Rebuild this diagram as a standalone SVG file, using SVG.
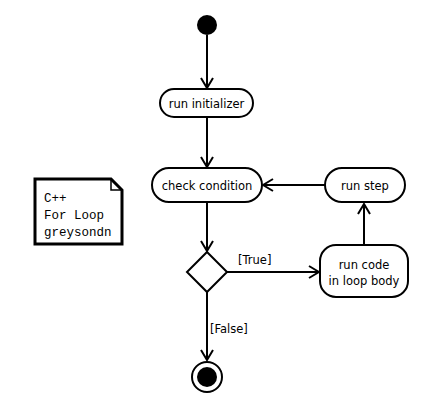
<svg xmlns="http://www.w3.org/2000/svg" width="433" height="408" viewBox="0 0 433 408">
  <style>
    .act { fill: #fff; stroke: #000; stroke-width: 2; }
    .lbl { font-family: "DejaVu Sans", Verdana, sans-serif; font-size: 11.5px; fill: #000; text-anchor: middle; }
    .guard { font-family: "DejaVu Sans", Verdana, sans-serif; font-size: 11.5px; fill: #000; }
    .edge { fill: none; stroke: #000; stroke-width: 2; marker-end: url(#open); }
    .note { font-family: "Liberation Mono", "Courier New", monospace; font-size: 12.5px; fill: #000; }
  </style>
  <defs>
    <marker id="open" viewBox="0 0 12 14" refX="11" refY="7" markerWidth="12" markerHeight="14" markerUnits="userSpaceOnUse" orient="auto">
      <path d="M1,1 L11,7 L1,13" fill="none" stroke="#000" stroke-width="2"/>
    </marker>
  </defs>

  <rect width="433" height="408" fill="#fff"/>

  <g id="connectors">
    <line class="edge" x1="207" y1="35" x2="207" y2="88"/>
    <line class="edge" x1="207" y1="118" x2="207" y2="167"/>
    <line class="edge" x1="207" y1="203" x2="207" y2="251"/>
    <line class="edge" x1="227" y1="272" x2="319" y2="272"/>
    <line class="edge" x1="364" y1="245" x2="364" y2="204"/>
    <line class="edge" x1="325" y1="185" x2="263" y2="185"/>
    <line class="edge" x1="207" y1="292" x2="207" y2="360"/>
    <text class="guard" x="238" y="264">[True]</text>
    <text class="guard" x="210" y="333">[False]</text>
  </g>

  <g id="start">
    <circle cx="207" cy="25" r="10" fill="#000"/>
  </g>

  <g id="run-initializer">
    <rect class="act" x="160" y="89" width="93" height="28" rx="14"/>
    <text class="lbl" x="206.5" y="107.5">run initializer</text>
  </g>

  <g id="check-condition">
    <rect class="act" x="152" y="168" width="110" height="34" rx="17"/>
    <text class="lbl" x="207" y="189.5">check condition</text>
  </g>

  <g id="run-step">
    <rect class="act" x="325" y="168" width="80" height="34" rx="17"/>
    <text class="lbl" x="365" y="189.5">run step</text>
  </g>

  <g id="decision">
    <polygon class="act" points="207,252 227,272 207,292 187,272"/>
  </g>

  <g id="run-body">
    <rect class="act" x="320" y="245" width="88" height="52" rx="16"/>
    <text class="lbl" x="364" y="269">run code</text>
    <text class="lbl" x="364" y="285">in loop body</text>
  </g>

  <g id="end">
    <circle cx="207" cy="377" r="15" fill="#fff" stroke="#000" stroke-width="2"/>
    <circle cx="207" cy="377" r="10" fill="#000"/>
  </g>

  <g id="note">
    <path d="M35,179 L111,179 L122,190 L122,244 L35,244 Z" fill="#fff" stroke="#000" stroke-width="3"/>
    <path d="M111,179 L111,190 L122,190" fill="none" stroke="#000" stroke-width="1.5"/>
    <text class="note" x="44" y="202">C++</text>
    <text class="note" x="44" y="219">For Loop</text>
    <text class="note" x="44" y="236">greysondn</text>
  </g>
</svg>
